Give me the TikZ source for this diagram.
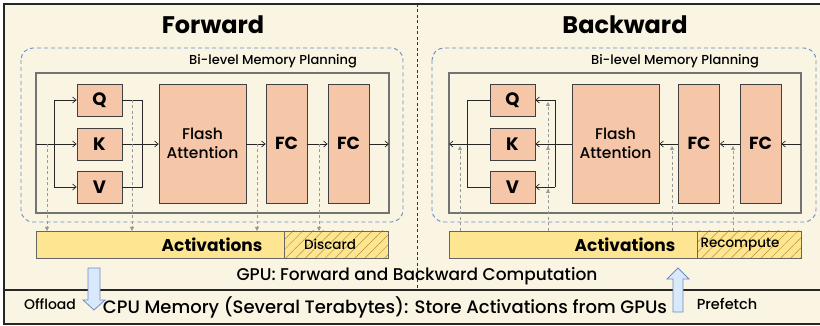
\documentclass[tikz,border=0pt]{standalone}
\usepackage{fontspec}
\setmainfont{Poppins}[UprightFont={* Medium}, BoldFont={* Bold}]
\usetikzlibrary{arrows.meta,patterns.meta}
\definecolor{bgc}{HTML}{FAF4E2}
\definecolor{boxc}{HTML}{F5C6A8}
\definecolor{actc}{HTML}{FDE592}
\definecolor{hatchc}{HTML}{B8912E}
\definecolor{plan}{HTML}{6A8CC4}
\definecolor{arrfill}{HTML}{DAE8FC}
\definecolor{arrdraw}{HTML}{6C8EBF}
\tikzset{
  opbox/.style={draw=black!75, fill=boxc, line width=0.8pt, inner sep=0pt, align=center},
  qkv/.style={opbox, minimum width=45pt, minimum height=32pt, font=\bfseries\fontsize{18}{18}\selectfont},
  fcbox/.style={opbox, minimum width=41pt, minimum height=119pt, font=\bfseries\fontsize{17.5}{18}\selectfont},
  flashbox/.style={opbox, minimum width=87pt, minimum height=119pt, font=\fontsize{15.5}{19}\selectfont},
  conn/.style={draw=black!85, line width=0.7pt},
  connarr/.style={conn, -{Straight Barb[length=3.5pt,width=6pt]}},
  actarrow/.style={draw=black!40, line width=0.8pt, dash pattern=on 3pt off 2.5pt, -{Triangle[length=4pt,width=4pt]}},
  planbox/.style={draw=plan, line width=0.9pt, dash pattern=on 4pt off 3pt, rounded corners=12pt},
  innerbox/.style={draw=black!55, line width=1.2pt},
  actbar/.style={draw=black!60, fill=actc, line width=0.8pt},
  hatchbar/.style={draw=black!60, line width=0.8pt, pattern={Lines[angle=45,distance=7pt,line width=0.5pt]}, pattern color=hatchc},
  bigarrow/.style={draw=arrdraw, fill=arrfill, line width=0.8pt, line join=miter},
  lbl/.style={inner sep=0pt, anchor=center}
}
\begin{document}
\begin{tikzpicture}[x=1pt,y=-1pt]
\useasboundingbox (0,0) rectangle (820,326);
\clip (0,0) rectangle (820,326);
\fill[white] (0,0) rectangle (820,326);
\fill[bgc] (4,4) rectangle (830,324);
\draw[line width=1.4pt, black!85] (830,4) -- (4,4) -- (4,324) -- (830,324);
\draw[line width=1.2pt, black!85] (4,290) -- (830,290);
\draw[line width=0.8pt, black!80, dash pattern=on 3pt off 2.5pt] (417,4) -- (417,290);

% ---------- Forward ----------
\node[lbl, font=\bfseries\fontsize{24}{24}\selectfont] (tf) at (213,25) {Forward};
\draw[planbox] (21,48) rectangle (403,222);
\node[lbl, font=\fontsize{13}{13}\selectfont] (plf) at (273,61) {Bi-level Memory Planning};
\draw[innerbox] (36,73) rectangle (389,213);

\node[qkv] (Qf) at (99.5,100) {Q};
\node[qkv] (Kf) at (99.5,144) {K};
\node[qkv] (Vf) at (99.5,187) {V};
\node[flashbox] (Ff) at (202.5,143.5) {Flash\\Attention};
\node[fcbox] (F1f) at (286.5,143.5) {FC};
\node[fcbox] (F2f) at (348.5,143.5) {FC};

\coordinate (inf) at (36,144);
\coordinate (brq) at (54,100);
\coordinate (brv) at (54,187);
\coordinate (mq) at (142,100);
\coordinate (mv) at (142,187);
\coordinate (outf) at (389,144);
\draw[connarr] (inf) -- (Kf.west);
\draw[conn] (brq) -- (brv);
\draw[connarr] (brq) -- (Qf.west);
\draw[connarr] (brv) -- (Vf.west);
\draw[conn] (Qf.east) -- (mq) -- (mv) -- (Vf.east);
\draw[connarr] (Kf.east) -- (Ff.west |- Kf.east);
\draw[connarr] (Ff.east |- outf) -- (F1f.west |- outf);
\draw[connarr] (F1f.east |- outf) -- (F2f.west |- outf);
\draw[connarr] (F2f.east |- outf) -- (outf);

\draw[actbar] (36,231) rectangle (284,258);
\draw[hatchbar, fill=actc] (284,231) rectangle (388,258);
\draw[hatchbar] (284,231) rectangle (388,258);
\node[lbl, font=\bfseries\fontsize{17}{17}\selectfont] (actf) at (212,244.5) {Activations};
\node[lbl, font=\fontsize{13.5}{13.5}\selectfont] (disc) at (330,244.5) {Discard};

\coordinate (d1s) at (47,144);   \coordinate (d1e) at (47,231);
\coordinate (d2s) at (132,100);  \coordinate (d2e) at (132,231);
\coordinate (d3s) at (257,144);  \coordinate (d3e) at (257,231);
\coordinate (d4s) at (319,144);  \coordinate (d4e) at (319,231);
\draw[actarrow] (d1s) -- (d1e);
\draw[actarrow] (d2s) -- (d2e);
\draw[actarrow] (d3s) -- (d3e);
\draw[actarrow] (d4s) -- (d4e);

% ---------- Backward ----------
\node[lbl, font=\bfseries\fontsize{24}{24}\selectfont] (tb) at (625,25) {Backward};
\draw[planbox] (432,48) rectangle (816,222);
\node[lbl, font=\fontsize{13}{13}\selectfont] (plb) at (675,61) {Bi-level Memory Planning};
\draw[innerbox] (449,73) rectangle (801,213);

\node[qkv] (Qb) at (512.5,100) {Q};
\node[qkv] (Kb) at (512.5,144) {K};
\node[qkv] (Vb) at (512.5,187) {V};
\node[flashbox] (Fb) at (615.5,143.5) {Flash\\Attention};
\node[fcbox] (F1b) at (699,143.5) {FC};
\node[fcbox] (F2b) at (760.5,143.5) {FC};

\coordinate (inb) at (801,144);
\coordinate (outb) at (449,144);
\coordinate (sq) at (555,100);
\coordinate (sv) at (555,187);
\coordinate (lq) at (467,100);
\coordinate (lv) at (467,187);
\draw[connarr] (inb) -- (F2b.east |- inb);
\draw[connarr] (F2b.west |- inb) -- (F1b.east |- inb);
\draw[connarr] (F1b.west |- inb) -- (Fb.east |- inb);
\draw[connarr] (Fb.west |- Kb.east) -- (Kb.east);
\draw[conn] (sq) -- (sv);
\draw[connarr] (sq) -- (Qb.east);
\draw[connarr] (sv) -- (Vb.east);
\draw[conn] (Qb.west) -- (lq) -- (lv) -- (Vb.west);
\draw[connarr] (Kb.west) -- (outb);

\draw[actbar] (449,231) rectangle (697,258);
\draw[hatchbar, fill=actc] (697,231) rectangle (801,258);
\draw[hatchbar] (697,231) rectangle (801,258);
\node[lbl, font=\bfseries\fontsize{17}{17}\selectfont] (actb) at (625,244.5) {Activations};
\node[lbl, font=\fontsize{13.5}{13.5}\selectfont] (reco) at (740,244.5) {Recompute};

\coordinate (u1s) at (460,231);  \coordinate (u1e) at (460,146);
\coordinate (u2s) at (548,231);  \coordinate (u2a) at (548,102);
\coordinate (u2b) at (548,146);  \coordinate (u2c) at (548,189);
\coordinate (u3s) at (672,231);  \coordinate (u3e) at (672,146);
\coordinate (u4s) at (733,231);  \coordinate (u4e) at (733,146);
\draw[actarrow] (u1s) -- (u1e);
\draw[actarrow] (u2s) -- (u2a);
\draw[actarrow] (u2s) -- (u2b);
\draw[actarrow] (u2s) -- (u2c);
\draw[actarrow] (u3s) -- (u3e);
\draw[actarrow] (u4s) -- (u4e);

% ---------- GPU / CPU ----------
\node[lbl, font=\fontsize{17}{17}\selectfont] (gpu) at (417,276) {GPU: Forward and Backward Computation};
\node[lbl, font=\fontsize{18}{18}\selectfont] (cpu) at (385,307) {CPU Memory (Several Terabytes): Store Activations from GPUs};

\draw[bigarrow] (88,268) -- (100,268) -- (100,300) -- (105,300) -- (94,310) -- (83,300) -- (88,300) -- cycle;
\node[lbl, font=\fontsize{14}{14}\selectfont] (off) at (50,304) {Offload};
\draw[bigarrow] (673,312) -- (683,312) -- (683,279) -- (689,279) -- (678,268) -- (667,279) -- (673,279) -- cycle;
\node[lbl, font=\fontsize{14.5}{14.5}\selectfont] (pre) at (727,304) {Prefetch};
\end{tikzpicture}
\end{document}
